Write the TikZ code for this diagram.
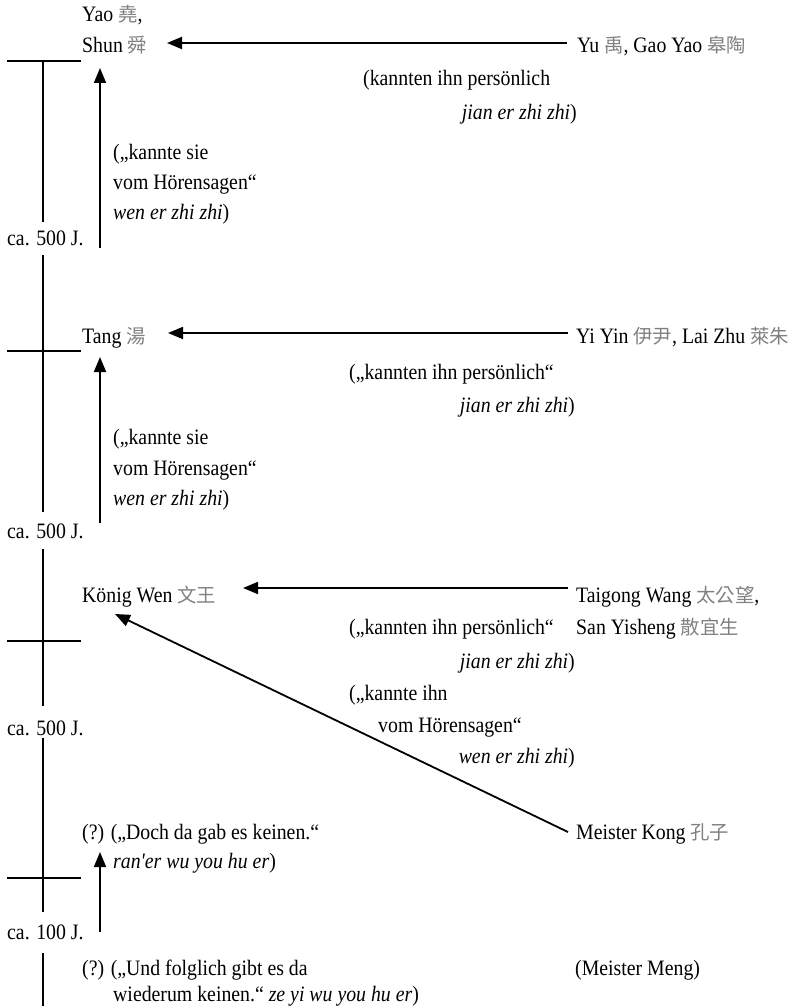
\documentclass[tikz,border=0pt]{standalone}
\usepackage{fontspec}
\setmainfont{Liberation Serif}[FakeStretch=0.9]
\newfontfamily\cjkf[Scale=0.88]{Noto Sans CJK TC}
\usetikzlibrary{arrows.meta}
\definecolor{cjkgray}{RGB}{128,128,128}
\newcommand{\zh}[1]{{\cjkf\color{cjkgray}#1}}
\newcommand{\straightapos}{{\addfontfeature{Ligatures=TeXOff}'}}
\begin{document}
\begin{tikzpicture}[x=1pt,y=-1pt,
  txt/.style={inner sep=0pt,anchor=base west,font=\fontsize{22}{26}\selectfont},
  txtr/.style={txt,anchor=base east},
  arr/.style={line width=1.8pt,-{Triangle[length=15pt,width=12pt]}},
  axisline/.style={line width=1.8pt}]
\useasboundingbox (0,0) rectangle (801,1006);

% time axis
\draw[axisline] (7,61) -- (81,61);
\draw[axisline] (7,351) -- (81,351);
\draw[axisline] (7,641) -- (81,641);
\draw[axisline] (7,878) -- (81,878);
\draw[axisline] (43,61) -- (43,222);
\draw[axisline] (43,255) -- (43,512);
\draw[axisline] (43,549) -- (43,706);
\draw[axisline] (43,738) -- (43,912);
\draw[axisline] (43,953) -- (43,1006);
\node[txt] (lab1) at (7,245) {ca. 500 J.};
\node[txt] (lab2) at (7,538) {ca. 500 J.};
\node[txt] (lab3) at (7,735) {ca. 500 J.};
\node[txt] (lab4) at (7,939) {ca. 100 J.};

% group 1
\node[txt] (yao) at (82,22) {Yao \zh{堯},};
\node[txt] (shun) at (82,53) {Shun \zh{舜}};
\node[txt] (yu) at (577,53) {Yu \zh{禹}, Gao Yao \zh{皋陶}};
\node[txt] (k1a) at (363,86) {(kannten ihn persönlich};
\node[txtr] (k1b) at (577,120) {\textit{jian er zhi zhi})};
\node[txt] (h1a) at (113,159) {(„kannte sie};
\node[txt] (h1b) at (113,189) {vom Hörensagen“};
\node[txt] (h1c) at (113,219) {\textit{wen er zhi zhi})};

% group 2
\node[txt] (tang) at (82,343) {Tang \zh{湯}};
\node[txt] (yiyin) at (576,343) {Yi Yin \zh{伊尹}, Lai Zhu \zh{萊朱}};
\node[txt] (k2a) at (349,379) {(„kannten ihn persönlich“};
\node[txtr] (k2b) at (575,412) {\textit{jian er zhi zhi})};
\node[txt] (h2a) at (113,444) {(„kannte sie};
\node[txt] (h2b) at (113,475) {vom Hörensagen“};
\node[txt] (h2c) at (113,505) {\textit{wen er zhi zhi})};

% group 3
\node[txt] (wen) at (82,602) {König Wen \zh{文王}};
\node[txt] (taigong) at (576,602) {Taigong Wang \zh{太公望},};
\node[txt] (sanyi) at (576,634) {San Yisheng \zh{散宜生}};
\node[txt] (k3a) at (349,634) {(„kannten ihn persönlich“};
\node[txtr] (k3b) at (575,668) {\textit{jian er zhi zhi})};
\node[txt] (h3a) at (349,700) {(„kannte ihn};
\node[txt] (h3b) at (378,732) {vom Hörensagen“};
\node[txtr] (h3c) at (575,763) {\textit{wen er zhi zhi})};

% group 4
\node[txt] (kong) at (576,839) {Meister Kong \zh{孔子}};
\node[txt] (q1a) at (82,839) {(?) („Doch da gab es keinen.“};
\node[txt] (q1b) at (113,868) {\textit{ran\straightapos er wu you hu er})};
\node[txt] (q2a) at (82,975) {(?) („Und folglich gibt es da};
\node[txt] (q2b) at (113,1001) {wiederum keinen.“ \textit{ze yi wu you hu er})};
\node[txt] (meng) at (575,975) {(Meister Meng)};

% connectors
\draw[arr] ([shift={(-10,-10)}]yu.base west) -- ([shift={(85,-10)}]shun.base west);
\draw[arr] ([shift={(93,3)}]lab1.base west) -- ([shift={(18,15)}]shun.base west);
\draw[arr] ([shift={(-8,-10)}]yiyin.base west) -- ([shift={(86,-10)}]tang.base west);
\draw[arr] ([shift={(93,-15)}]lab2.base west) -- ([shift={(18,14)}]tang.base west);
\draw[arr] ([shift={(-8,-14)}]taigong.base west) -- ([shift={(161,-14)}]wen.base west);
\draw[arr] ([shift={(-8,-7)}]kong.base west) -- ([shift={(33,12)}]wen.base west);
\draw[arr] ([shift={(93,-7)}]lab4.base west) -- ([shift={(18,13)}]q1a.base west);
\end{tikzpicture}
\end{document}
